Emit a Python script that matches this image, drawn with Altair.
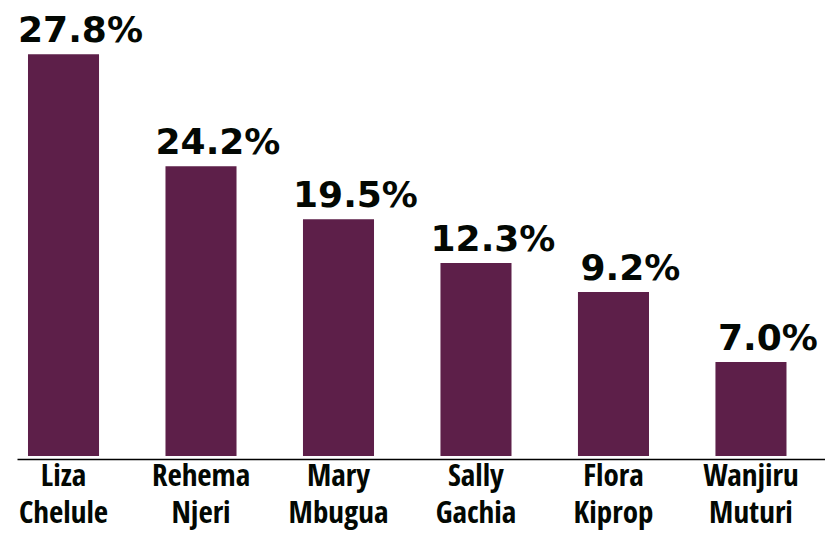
import altair as alt
import pandas as pd

# Candidates (two-line names are split on the space)
names = ["Liza Chelule", "Rehema Njeri", "Mary Mbugua", "Sally Gachia", "Flora Kiprop", "Wanjiru Muturi"]
# Percent labels printed above each bar
labels = ["27.8%", "24.2%", "19.5%", "12.3%", "9.2%", "7.0%"]
# Bar heights as drawn in the picture (same scale as first bar = 27.8)
bar_heights = [27.8, 20.05, 16.38, 13.36, 11.35, 6.5]

df = pd.DataFrame({"name": names, "label": labels, "height": bar_heights})

BAR = "#5D1F49"
TXT = "#030803"
NAME_FONT = "Open Sans Condensed, Roboto Condensed, Arial Narrow, Roboto, sans-serif"

x = alt.X(
    "name:N",
    sort=names,
    scale=alt.Scale(paddingInner=0.4833, paddingOuter=0.18, align=0.222),
    axis=alt.Axis(
        title=None,
        labelAngle=0,
        labelExpr="split(datum.label, ' ')",
        labelFont=NAME_FONT,
        labelFontSize=31,
        labelFontWeight="bold",
        labelColor=TXT,
        labelLineHeight=37,
        labelPadding=2,
        labelLimit=0,
        ticks=False,
        tickSize=0,
        domainColor="#000000",
        domainWidth=1.5,
        offset=3,
        grid=False,
    ),
)
y = alt.Y("height:Q", scale=alt.Scale(domain=[0, 31], nice=False, zero=True), axis=None)

bars = alt.Chart(df).mark_bar(color=BAR).encode(x=x, y=y)
text = alt.Chart(df).mark_text(
    font="DejaVu Sans",
    fontSize=36,
    fontWeight="bold",
    color=TXT,
    align="center",
    baseline="alphabetic",
    dx=17,
    dy=-12,
).encode(x=x, y=y, text="label:N")

chart = (
    alt.layer(bars, text)
    .properties(
        width=808,
        height=448,
        autosize=alt.AutoSizeParams(type="none"),
        padding={"left": 9, "top": 0, "right": 0, "bottom": 75},
    )
    .configure_view(strokeWidth=0, stroke="transparent")
)

chart.save("out.html", embed_options={"renderer": "svg", "actions": False})
